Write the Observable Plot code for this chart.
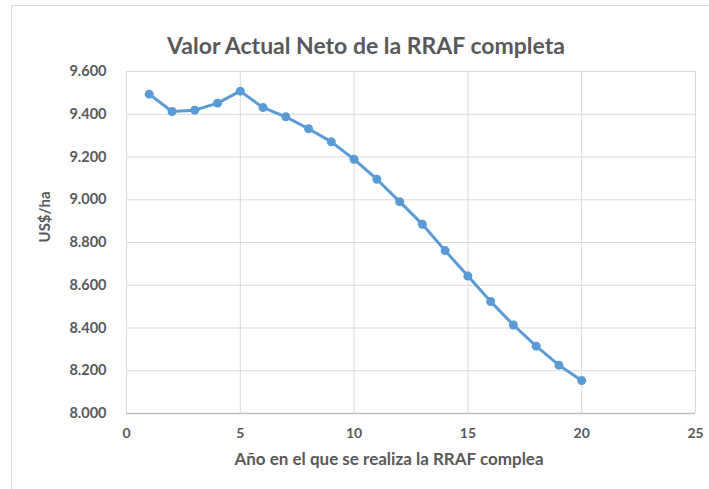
<!DOCTYPE html>
<html>
<head>
<meta charset="utf-8">
<script src="https://cdn.jsdelivr.net/npm/d3@7"></script>
<script src="https://cdn.jsdelivr.net/npm/@observablehq/plot@0.6"></script>
<style>
  html, body { margin: 0; padding: 0; background: #fff; }
  #wrap { position: relative; width: 709px; height: 489px; overflow: hidden; }
  #chart svg { display: block; }
  #border { position: absolute; left: 11px; top: 5px; width: 720px; height: 500px;
            border-left: 1.5px solid #d9d9d9; border-top: 1.5px solid #d9d9d9; pointer-events: none; }
</style>
</head>
<body>
<div id="wrap"><div id="chart"></div><div id="border"></div></div>
<script>
const years = [1, 2, 3, 4, 5, 6, 7, 8, 9, 10, 11, 12, 13, 14, 15, 16, 17, 18, 19, 20];
const values = [9494, 9413, 9419, 9452, 9508, 9431, 9388, 9332, 9271, 9189, 9096, 8991, 8885, 8762, 8643, 8524, 8414, 8315, 8226, 8154];
const xTicks = [0, 5, 10, 15, 20, 25];
const yTicks = [8000, 8200, 8400, 8600, 8800, 9000, 9200, 9400, 9600];
const titleText = "Valor Actual Neto de la RRAF completa";
const xLabel = "Año en el que se realiza la RRAF complea";
const yLabel = "US$/ha";

const data = years.map((y, i) => ({year: y, value: values[i]}));
const locale = d3.formatLocale({decimal: ",", thousands: ".", grouping: [3], currency: ["$", ""]});
const fmt = locale.format(",.0f");
const grey = "#595959";
const font = "Lato, 'Open Sans', sans-serif";

const chart = Plot.plot({
  width: 709,
  height: 489,
  marginLeft: 126,
  marginRight: 14,
  marginTop: 71,
  marginBottom: 76,
  x: {domain: [0, 25], ticks: xTicks, label: null},
  y: {domain: [8000, 9600], ticks: yTicks, label: null},
  style: {fontFamily: font, fontWeight: "bold", fontSize: "14px", color: grey, background: "#fff"},
  marks: [
    Plot.gridX(xTicks, {stroke: "#d9d9d9", strokeOpacity: 1, strokeWidth: 1}),
    Plot.gridY(yTicks, {stroke: "#d9d9d9", strokeOpacity: 1, strokeWidth: 1}),
    Plot.ruleY([8000], {stroke: "#bfbfbf", strokeWidth: 1.3}),
    Plot.axisY(yTicks, {tickSize: 0, tickPadding: 20, tickFormat: fmt, fontSize: 14.5, fontWeight: "bold", fill: grey, label: null}),
    Plot.axisX(xTicks, {tickSize: 0, tickPadding: 15, fontSize: 14, fontWeight: "bold", fill: grey, label: null}),
    Plot.line(data, {x: "year", y: "value", stroke: "#5b9bd5", strokeWidth: 3}),
    Plot.dot(data, {x: "year", y: "value", fill: "#5b9bd5", r: 4.5}),
    Plot.text([titleText], {text: d => d, frameAnchor: "top", dx: -45, dy: -34, fontSize: 23, fontWeight: "bold", fill: grey}),
    Plot.text([xLabel], {text: d => d, frameAnchor: "bottom", dx: -22, dy: 51, fontSize: 17, fontWeight: "bold", fill: grey}),
    Plot.text([yLabel], {text: d => d, frameAnchor: "left", dx: -81, rotate: -90, fontSize: 15, fontWeight: "bold", fill: grey})
  ]
});
document.getElementById("chart").appendChild(chart);
</script>
</body>
</html>
